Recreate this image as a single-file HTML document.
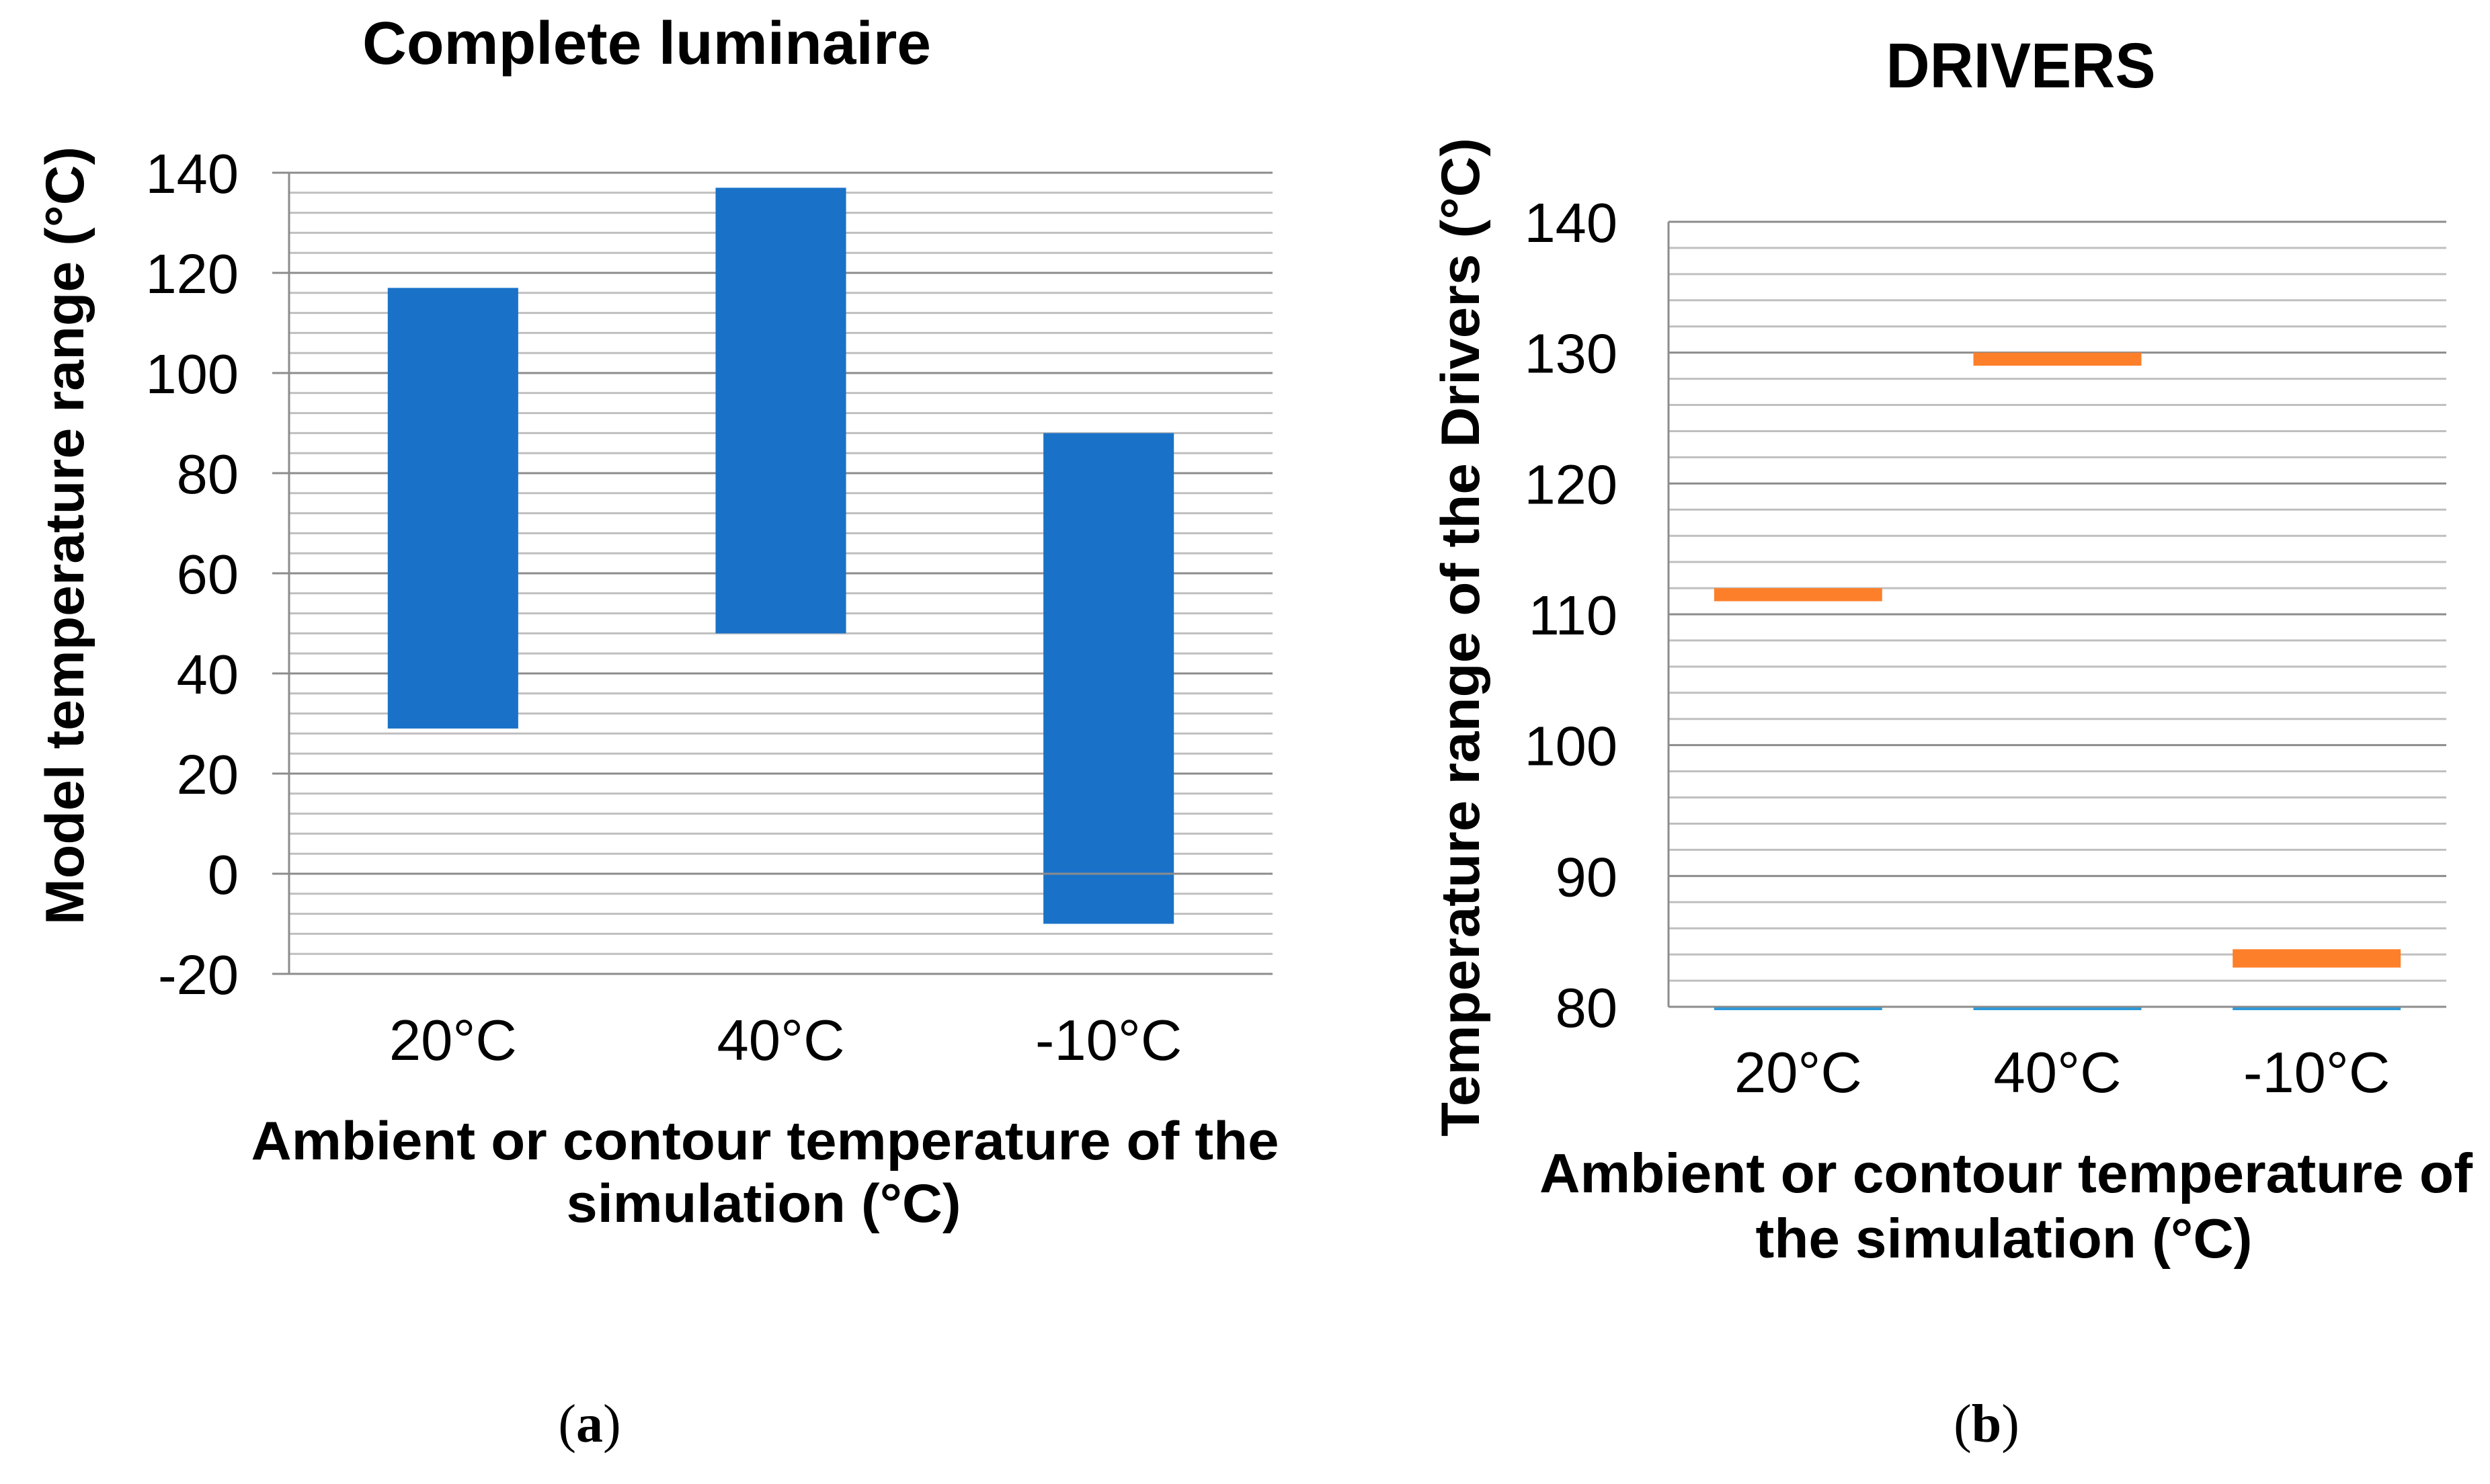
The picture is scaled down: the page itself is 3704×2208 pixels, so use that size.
<!DOCTYPE html>
<html><head><meta charset="utf-8"><style>
html,body{margin:0;padding:0;background:#fff}
svg{display:block}
text{font-family:"Liberation Sans",Arial,sans-serif;fill:#000}
</style></head><body>
<svg id="fig" width="3704" height="2208" viewBox="0 0 3704 2208" xmlns="http://www.w3.org/2000/svg">
<g id="chartA">
<text x="962" y="95" font-size="90" font-weight="bold" text-anchor="middle" textLength="846" lengthAdjust="spacingAndGlyphs">Complete luminaire</text>
<text transform="translate(124,797) rotate(-90)" font-size="81" font-weight="bold" text-anchor="middle" textLength="1158" lengthAdjust="spacingAndGlyphs">Model temperature range (°C)</text>
<text x="1138" y="1725" font-size="81" font-weight="bold" text-anchor="middle" textLength="1529" lengthAdjust="spacingAndGlyphs">Ambient or contour temperature of the</text>
<text x="1136" y="1818" font-size="81" font-weight="bold" text-anchor="middle" textLength="587" lengthAdjust="spacingAndGlyphs">simulation (°C)</text>
</g>
<g id="chartB">
<text x="3006" y="130" font-size="95" font-weight="bold" text-anchor="middle" textLength="401" lengthAdjust="spacingAndGlyphs">DRIVERS</text>
<text transform="translate(2200,948) rotate(-90)" font-size="81" font-weight="bold" text-anchor="middle" textLength="1486" lengthAdjust="spacingAndGlyphs">Temperature range of the Drivers (°C)</text>
<text x="2984" y="1774" font-size="83" font-weight="bold" text-anchor="middle" textLength="1388" lengthAdjust="spacingAndGlyphs">Ambient or contour temperature of</text>
<text x="2981" y="1871" font-size="83" font-weight="bold" text-anchor="middle" textLength="739" lengthAdjust="spacingAndGlyphs">the simulation (°C)</text>
</g>
<text x="877" y="2145" font-size="80" text-anchor="middle" style="font-family:'Liberation Serif',serif">(<tspan font-weight="bold">a</tspan>)</text>
<text x="2955" y="2145" font-size="80" text-anchor="middle" style="font-family:'Liberation Serif',serif">(<tspan font-weight="bold">b</tspan>)</text>
</svg>
<script>
const NS="http://www.w3.org/2000/svg";
// Chart A data
const aCategories=["20°C","40°C","-10°C"];
const aLow=[29,48,-10];
const aHigh=[117,137,88];
const aTicks=[-20,0,20,40,60,80,100,120,140];
// Chart B data
const bCategories=["20°C","40°C","-10°C"];
const bLow=[111,129,83];
const bHigh=[112,130,84.4];
const bBase=[80,80,80];
const bTicks=[80,90,100,110,120,130,140];

function mk(parent,tag,attrs){const e=document.createElementNS(NS,tag);for(const k in attrs)e.setAttribute(k,attrs[k]);parent.appendChild(e);return e;}

function drawChart(g,cfg){
  const {x0,x1,yTop,yBot,vMin,vMax,ticks,minorStep,cats,low,high,barFrac,color,labelRight,catBaseline,tickMarks,prefix}=cfg;
  const yS=v=>yBot-(v-vMin)/(vMax-vMin)*(yBot-yTop);
  const band=(x1-x0)/cats.length;
  const xC=i=>x0+band*(i+0.5);
  for(let v=vMin;v<=vMax+1e-9;v+=minorStep){
    if(ticks.some(t=>Math.abs(t-v)<1e-9))continue;
    const l=mk(g,"line",{x1:x0,x2:x1,y1:yS(v),y2:yS(v),stroke:"#bfbfbf","stroke-width":3});
    
    
  }
  ticks.forEach(t=>{
    const l=mk(g,"line",{x1:tickMarks?x0-25:x0,x2:x1,y1:yS(t),y2:yS(t),stroke:"#8c8c8c","stroke-width":3});
    
    
    const tx=mk(g,"text",{x:labelRight,y:yS(t)+30,"font-size":83,"text-anchor":"end"});
    tx.textContent=t;
    
    
  });
  const ax=mk(g,"line",{x1:x0,x2:x0,y1:yTop,y2:yBot,stroke:"#8c8c8c","stroke-width":3});
  
  
  const bw=band*barFrac;
  cats.forEach((c,i)=>{
    const r=mk(g,"rect",{x:xC(i)-bw/2,y:yS(high[i]),width:bw,height:yS(low[i])-yS(high[i]),fill:color});
    
    
    const tx=mk(g,"text",{x:xC(i),y:catBaseline,"font-size":85,"text-anchor":"middle"});
    tx.textContent=c;
    
    
  });
  return {yS,xC,bw};
}

const gA=document.getElementById("chartA");
const A=drawChart(gA,{x0:430,x1:1893,yTop:257,yBot:1449,vMin:-20,vMax:140,ticks:aTicks,minorStep:4,cats:aCategories,low:aLow,high:aHigh,barFrac:0.398,color:"#1a72c8",labelRight:355,catBaseline:1577,tickMarks:true,prefix:"a-"});
const z=mk(gA,"line",{x1:430,x2:1893,y1:A.yS(0),y2:A.yS(0),stroke:"#8c8c8c","stroke-width":3});



const gB=document.getElementById("chartB");
const B=drawChart(gB,{x0:2482,x1:3639,yTop:330,yBot:1498,vMin:80,vMax:140,ticks:bTicks,minorStep:2,cats:bCategories,low:bLow,high:bHigh,barFrac:0.648,color:"#fd7f2a",labelRight:2406,catBaseline:1625,tickMarks:false,prefix:"b-"});
bCategories.forEach((c,i)=>{
  const l=mk(gB,"rect",{x:B.xC(i)-B.bw/2,y:B.yS(bBase[i])+1,width:B.bw,height:4,fill:"#2e9ad8"});
  
  
});
</script>
</body></html>
